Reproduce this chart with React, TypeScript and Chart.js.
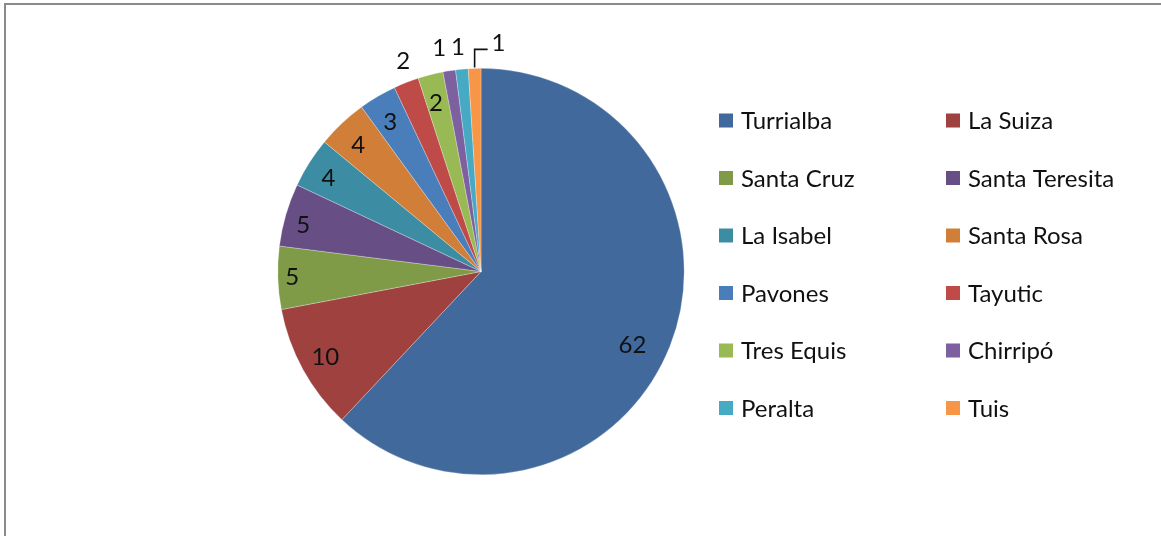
import React, { useEffect, useRef } from "react";
import { Chart, registerables } from "chart.js";

Chart.register(...registerables);

const categories = [
  "Turrialba",
  "La Suiza",
  "Santa Cruz",
  "Santa Teresita",
  "La Isabel",
  "Santa Rosa",
  "Pavones",
  "Tayutic",
  "Tres Equis",
  "Chirripó",
  "Peralta",
  "Tuis",
];
const values = [62, 10, 5, 5, 4, 4, 3, 2, 2, 1, 1, 1];
const sliceColors = [
  "#41699C",
  "#9E413F",
  "#7F9B48",
  "#674F85",
  "#3C8DA4",
  "#D17E38",
  "#4A7EBB",
  "#BE4B48",
  "#98B954",
  "#7D60A0",
  "#46AAC5",
  "#F79646",
];

const FONT = "Lato, 'Open Sans', sans-serif";
const FONT_SIZE = 24;

// label layout: [radius fraction, angle offset in degrees, mode]
const labelPlacement: Array<[number, number, string]> = [
  [0.83, 4.5, "in"],
  [0.874, 0, "in"],
  [0.93, 0, "in"],
  [0.904, -1.6, "in"],
  [0.88, -1, "in"],
  [0.867, -1, "in"],
  [0.86, -0.7, "in"],
  [1.103, 1.3, "out"],
  [0.857, -0.6, "in"],
  [1.12, -1.6, "out"],
  [1.107, -0.5, "out"],
  [1.0, 0, "leader"],
];

const labelsPlugin = {
  id: "sliceLabels",
  afterDatasetsDraw(chart: any) {
    const ctx = chart.ctx;
    const meta = chart.getDatasetMeta(0);
    const ds = chart.data.datasets[0];
    ctx.save();
    ctx.font = `${FONT_SIZE}px ${FONT}`;
    ctx.fillStyle = "#111";
    ctx.textAlign = "center";
    ctx.textBaseline = "middle";
    meta.data.forEach((arc: any, i: number) => {
      const p = arc.getProps(["x", "y", "startAngle", "endAngle", "outerRadius"], true);
      const [frac, off, mode] = labelPlacement[i];
      const mid = (p.startAngle + p.endAngle) / 2;
      const text = String(ds.data[i]);
      if (mode === "leader") {
        const ex = p.x + Math.cos(mid) * p.outerRadius;
        const ey = p.y + Math.sin(mid) * p.outerRadius - 1;
        const ty = ey - 18;
        ctx.strokeStyle = "#111";
        ctx.lineWidth = 1.6;
        ctx.beginPath();
        ctx.moveTo(ex, ey);
        ctx.lineTo(ex, ty);
        ctx.lineTo(ex + 13, ty);
        ctx.stroke();
        ctx.textAlign = "left";
        ctx.fillText(text, ex + 17, ty - 6);
        ctx.textAlign = "center";
        return;
      }
      const a = mid + (off * Math.PI) / 180;
      const r = p.outerRadius * frac;
      ctx.fillText(text, p.x + Math.cos(a) * r, p.y + Math.sin(a) * r);
    });
    ctx.restore();
  },
};

const legendPlugin = {
  id: "gridLegend",
  afterDraw(chart: any) {
    const ctx = chart.ctx;
    const colX = [719, 946];
    const firstRow = 120.5;
    const rowGap = 57.5;
    const box = 14;
    const labels = chart.data.labels;
    const colors = chart.data.datasets[0].backgroundColor;
    ctx.save();
    ctx.font = `${FONT_SIZE}px ${FONT}`;
    ctx.textAlign = "left";
    ctx.textBaseline = "alphabetic";
    labels.forEach((lab: string, i: number) => {
      const col = i % 2;
      const row = Math.floor(i / 2);
      const cy = firstRow + row * rowGap;
      const x = colX[col];
      ctx.fillStyle = colors[i];
      ctx.fillRect(x, cy - box / 2, box, box);
      ctx.fillStyle = "#111";
      ctx.fillText(lab, x + box + 8, cy + 8.6);
    });
    ctx.restore();
  },
};

export default function App() {
  const ref = useRef<HTMLCanvasElement | null>(null);
  useEffect(() => {
    if (!ref.current) return;
    const chart = new Chart(ref.current, {
      type: "pie",
      data: {
        labels: categories,
        datasets: [
          {
            data: values,
            backgroundColor: sliceColors,
            borderColor: "rgba(255,255,255,0.45)",
            borderWidth: 0.6,
          },
        ],
      },
      options: {
        animation: false,
        responsive: false,
        maintainAspectRatio: false,
        layout: { padding: { left: 277, right: 476, top: 68, bottom: 61 } },
        plugins: {
          legend: { display: false },
          tooltip: { enabled: false },
        },
      },
      plugins: [labelsPlugin, legendPlugin],
    });
    return () => chart.destroy();
  }, []);
  return (
    <div
      style={{
        position: "absolute",
        left: 0,
        top: 0,
        width: 1161,
        height: 536,
        overflow: "hidden",
        background: "#fff",
      }}
    >
      <div
        style={{
          position: "absolute",
          left: 4,
          top: 3,
          width: 1300,
          height: 700,
          borderTop: "2px solid #8a8a8a",
          borderLeft: "2px solid #8a8a8a",
        }}
      />
      <canvas
        ref={ref}
        width={1161}
        height={536}
        style={{ position: "absolute", left: 0, top: 0, width: 1161, height: 536 }}
      />
    </div>
  );
}
